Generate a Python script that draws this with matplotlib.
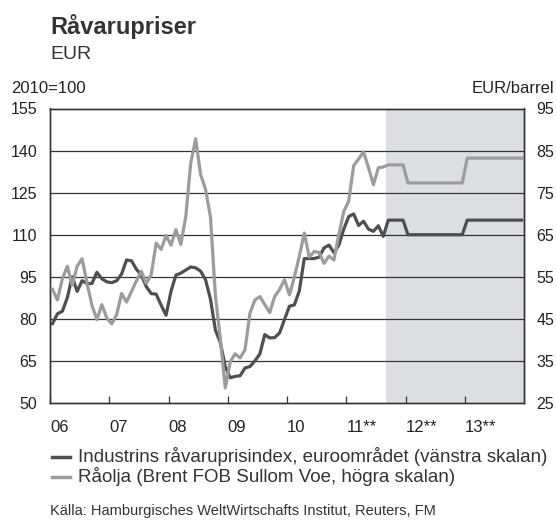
import numpy as np
import matplotlib
matplotlib.use("Agg")
import matplotlib.pyplot as plt
from matplotlib.lines import Line2D

plt.rcParams['font.family'] = ['Liberation Sans', 'DejaVu Sans']

# Industrins råvaruprisindex (2010=100), månadsvärden jan 2006 - aug 2011
index_actual = [
    78.3, 81.8, 82.7, 87.5, 95.0, 89.8, 93.6, 92.6, 92.6, 96.6, 94.3, 93.2,   # 2006
    92.9, 93.6, 96.0, 101.0, 100.7, 97.7, 95.6, 91.5, 89.0, 88.8, 84.9, 81.3,  # 2007
    89.8, 95.6, 96.3, 97.4, 98.5, 98.2, 97.0, 94.0, 87.0, 76.0, 71.5, 63.0,   # 2008
    59.0, 59.5, 59.7, 62.5, 63.0, 65.0, 67.5, 74.4, 73.2, 73.3, 75.0, 79.8,   # 2009
    84.5, 85.0, 90.0, 101.5, 101.5, 101.5, 102.0, 105.3, 106.3, 103.6, 106.3, 112.0,  # 2010
    116.5, 117.4, 113.3, 114.8, 112.0, 111.2, 113.2, 109.4,  # 2011
]

# Råolja Brent, EUR/barrel
oil_actual = [
    52.0, 49.5, 54.5, 57.5, 53.0, 57.5, 59.3, 53.5, 48.2, 44.8, 48.4, 45.2,
    43.8, 46.0, 51.0, 49.0, 51.5, 54.0, 56.3, 53.4, 55.5, 63.0, 61.5, 64.8,
    62.5, 66.2, 62.7, 69.3, 82.0, 87.8, 79.3, 75.8, 69.2, 50.5, 40.2, 28.6,
    34.8, 36.7, 35.7, 37.7, 46.4, 49.5, 50.3, 48.4, 46.5, 50.3, 52.0, 54.3,
    50.7, 55.0, 59.9, 65.4, 59.7, 61.0, 60.8, 58.2, 59.9, 59.0, 65.0, 70.5,
    73.0, 81.4, 83.0, 84.7, 81.0, 76.9, 80.9, 81.1,
]

# prognos: sep-dec 2011, 2012, 2013
fc_months = [4, 12, 12]
index_fc_levels = [115.2, 110.0, 115.2]
oil_fc_levels = [81.6, 77.3, 83.2]

year_labels = ['06', '07', '08', '09', '10', '11**', '12**', '13**']
forecast_start = 2011 + 8 / 12

index_all = np.concatenate([index_actual, np.repeat(index_fc_levels, fc_months)])
oil_all = np.concatenate([oil_actual, np.repeat(oil_fc_levels, fc_months)])
t = 2006 + (np.arange(len(index_all)) + 0.5) / 12

dark = '#4f4f4f'
light = '#9c9c9c'
gridc = '#333333'

fig = plt.figure(figsize=(5.56, 5.25), dpi=100)
ax = fig.add_axes([50 / 556, 122 / 525, 474 / 556, 294.5 / 525])
ax2 = ax.twinx()

ax.axvspan(forecast_start, 2014, color='#dddee1', lw=0, zorder=0)
for v in range(65, 155, 15):
    ax.axhline(v, color=gridc, lw=0.9, zorder=0.5)

ax.plot(t, index_all, color=dark, lw=2.3, solid_joinstyle='round', zorder=3)
ax2.plot(t, oil_all, color=light, lw=2.3, solid_joinstyle='round', zorder=3)

ax.set_xlim(2006, 2014)
ax.set_ylim(50, 155)
ax2.set_ylim(25, 95)
ax.set_yticks(range(50, 156, 15))
ax2.set_yticks(range(25, 96, 10))
ax.set_xticks(range(2006, 2014))
ax.set_xticklabels(year_labels, ha='left')

ax.tick_params(axis='x', direction='in', length=5, width=0.9, color=gridc,
               pad=12, labelsize=12, labelcolor='#222222')
ax.tick_params(axis='y', length=0, pad=9, labelsize=11.5, labelcolor='#222222')
ax2.tick_params(axis='y', length=0, pad=9, labelsize=11.5, labelcolor='#222222')

for a in (ax, ax2):
    for s in a.spines.values():
        s.set_color(gridc)
        s.set_linewidth(1.0)

fig.text(50 / 556, 1 - 34 / 525, 'Råvarupriser', fontsize=17, fontweight='bold',
         color='#333333', va='baseline', ha='left')
fig.text(50 / 556, 1 - 59 / 525, 'EUR', fontsize=14, color='#333333',
         va='baseline', ha='left')
fig.text(11 / 556, 1 - 93 / 525, '2010=100', fontsize=12, color='#222222',
         va='baseline', ha='left')
fig.text(554 / 556, 1 - 93 / 525, 'EUR/barrel', fontsize=12, color='#222222',
         va='baseline', ha='right')

legend_items = [
    ('Industrins råvaruprisindex, euroområdet (vänstra skalan)', dark, 457),
    ('Råolja (Brent FOB Sullom Voe, högra skalan)', light, 477),
]
for label, col, ypx in legend_items:
    yf = 1 - ypx / 525
    fig.add_artist(Line2D([52 / 556, 70 / 556], [yf, yf], color=col, lw=2.5,
                          transform=fig.transFigure))
    fig.text(78 / 556, yf, label, fontsize=13.5, color='#333333',
             va='center', ha='left')

fig.text(50 / 556, 1 - 515 / 525,
         'Källa: Hamburgisches WeltWirtschafts Institut, Reuters, FM',
         fontsize=10.5, color='#333333', va='baseline', ha='left')

fig.savefig('out.png', dpi=100)
